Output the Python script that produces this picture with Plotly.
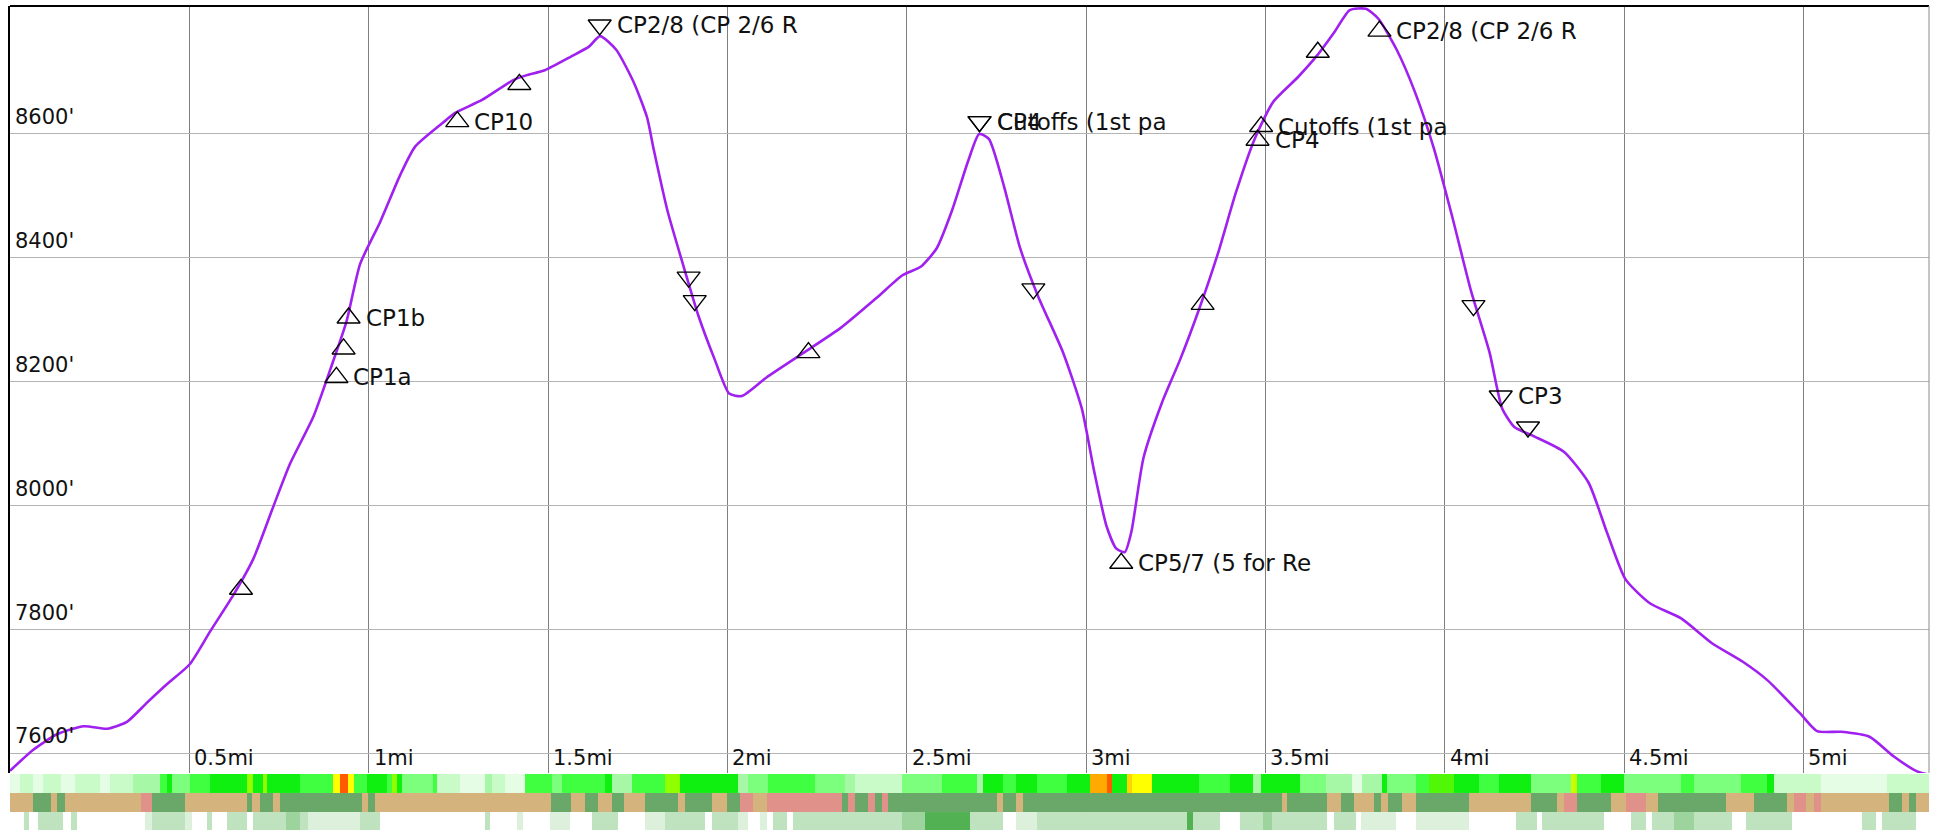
import plotly.graph_objects as go

# ---------------- data ----------------
dist_mi = [0.000, 0.065, 0.131, 0.206, 0.271, 0.326, 0.382, 0.438, 0.501, 0.558, 0.623, 0.679,
           0.735, 0.781, 0.846, 0.893, 0.938, 0.976, 1.032, 1.088, 1.130, 1.217, 1.241, 1.316,
           1.403, 1.441, 1.491, 1.564, 1.614, 1.645, 1.690, 1.740, 1.776, 1.795, 1.833, 1.878,
           1.919, 1.964, 2.005, 2.040, 2.109, 2.213, 2.316, 2.419, 2.488, 2.540, 2.584, 2.626,
           2.671, 2.702, 2.729, 2.771, 2.816, 2.867, 2.936, 2.988, 3.022, 3.057, 3.084, 3.108,
           3.126, 3.160, 3.212, 3.263, 3.315, 3.367, 3.418, 3.470, 3.522, 3.591, 3.643, 3.694,
           3.735, 3.780, 3.815, 3.866, 3.918, 3.970, 4.021, 4.073, 4.125, 4.160, 4.194, 4.245,
           4.332, 4.401, 4.452, 4.504, 4.573, 4.659, 4.745, 4.831, 4.900, 4.990, 5.038, 5.105,
           5.184, 5.252, 5.317, 5.348]
elev_ft = [7572, 7606, 7631, 7644, 7640, 7651, 7682, 7712, 7744, 7797, 7856, 7915,
           8000, 8068, 8144, 8220, 8297, 8390, 8458, 8534, 8580, 8623, 8634, 8655,
           8687, 8695, 8703, 8725, 8741, 8758, 8736, 8682, 8627, 8574, 8476, 8386,
           8307, 8237, 8181, 8177, 8207, 8247, 8287, 8337, 8372, 8386, 8416, 8476,
           8556, 8600, 8592, 8516, 8416, 8337, 8247, 8157, 8057, 7967, 7931, 7925,
           7957, 8077, 8167, 8237, 8317, 8406, 8506, 8592, 8652, 8692, 8726, 8766,
           8800, 8802, 8786, 8736, 8666, 8576, 8466, 8347, 8247, 8157, 8127, 8113,
           8087, 8037, 7957, 7881, 7842, 7818, 7778, 7748, 7718, 7665, 7636, 7635,
           7627, 7595, 7571, 7566]

# checkpoints approached uphill (drawn as up triangles)
up_mi = [0.644, 0.910, 0.930, 0.944, 1.247, 1.420, 2.226, 3.098, 3.325, 3.478, 3.488, 3.646, 3.818]
up_ft = [7865, 8207, 8253, 8303, 8620, 8680, 8247, 7907, 8325, 8590, 8612, 8732, 8766]
up_lbl = ["", "CP1a", "", "CP1b", "CP10", "", "", "CP5/7 (5 for Re", "", "CP4",
          "Cutoffs (1st pa", "", "CP2/8 (CP 2/6 R"]

# checkpoints approached downhill (drawn as down triangles)
dn_mi = [1.644, 1.892, 1.909, 2.703, 2.703, 2.853, 4.080, 4.156, 4.232]
dn_ft = [8776, 8369, 8331, 8620, 8620, 8350, 8323, 8177, 8127]
dn_lbl = ["CP2/8 (CP 2/6 R", "", "", "CP4", "Cutoffs (1st pa", "", "", "CP3", ""]

x_ticks = [0.5, 1, 1.5, 2, 2.5, 3, 3.5, 4, 4.5, 5]
x_tick_text = ["0.5mi", "1mi", "1.5mi", "2mi", "2.5mi", "3mi", "3.5mi", "4mi", "4.5mi", "5mi"]
y_ticks = [7600, 7800, 8000, 8200, 8400, 8600]
y_tick_text = ["7600'", "7800'", "8000'", "8200'", "8400'", "8600'"]

# strip 1: grade intensity (0 pale ... 6 green, 8 yellow, 10 red-orange)
grade_edges = [0, 0.029, 0.063, 0.093, 0.141, 0.182, 0.252, 0.280, 0.344, 0.419, 0.439, 0.453,
               0.503, 0.558, 0.662, 0.678, 0.706, 0.717, 0.809, 0.901, 0.921, 0.943, 0.960,
               0.996, 1.052, 1.066, 1.080, 1.093, 1.180, 1.191, 1.255, 1.325, 1.344, 1.380,
               1.436, 1.511, 1.539, 1.659, 1.678, 1.734, 1.826, 1.868, 2.029, 2.057, 2.113,
               2.244, 2.327, 2.355, 2.486, 2.598, 2.695, 2.712, 2.767, 2.806, 2.862, 2.946,
               3.010, 3.057, 3.071, 3.113, 3.127, 3.185, 3.316, 3.400, 3.464, 3.489, 3.595,
               3.670, 3.742, 3.770, 3.826, 3.840, 3.921, 3.957, 4.026, 4.096, 4.152, 4.241,
               4.352, 4.369, 4.436, 4.500, 4.659, 4.695, 4.826, 4.898, 4.918, 5.049, 5.233, 5.350]
grade_val = [1, 2, 1, 2, 1, 2, 1, 2, 3, 5, 6,
             4, 5, 6, 7, 6, 7, 6, 5, 8, 10, 8,
             5, 6, 5, 7, 6, 4, 5, 2, 1, 3, 2,
             1, 5, 4, 5, 6, 3, 5, 7, 6, 3, 4,
             5, 4, 3, 2, 4, 5, 3, 6, 5, 6, 5,
             6, 9, 10, 6, 8.5, 8, 6, 5, 6, 3, 6,
             4, 3, 1, 3, 6, 4, 5, 6.5, 6, 5, 6,
             4, 7.5, 5, 6, 4, 5, 4, 5, 6, 2, 1, 2]

# strip 2: surface type (0 tan, 1 green, 2 salmon)
surf_edges = [0, 0.063, 0.113, 0.132, 0.152, 0.364, 0.397, 0.489, 0.662, 0.676, 0.698, 0.734,
              0.753, 0.982, 0.999, 1.018, 1.508, 1.564, 1.603, 1.639, 1.678, 1.712, 1.770,
              1.862, 1.882, 1.957, 1.999, 2.035, 2.071, 2.110, 2.319, 2.336, 2.355, 2.391,
              2.411, 2.430, 2.447, 2.751, 2.767, 2.806, 2.823, 3.545, 3.561, 3.673, 3.712,
              3.748, 3.804, 3.823, 3.843, 3.882, 3.921, 4.068, 4.241, 4.313, 4.333, 4.369,
              4.464, 4.506, 4.561, 4.595, 4.784, 4.862, 4.954, 4.973, 5.007, 5.029, 5.049,
              5.238, 5.274, 5.294, 5.313, 5.350]
surf_val = [0, 1, 0, 1, 0, 2, 1, 0, 1, 0, 1,
            0, 1, 0, 1, 0, 1, 0, 1, 0, 1, 0,
            1, 0, 1, 0, 1, 2, 0, 2, 1, 2, 1,
            2, 1, 2, 1, 0, 1, 0, 1, 0, 1, 0,
            1, 0, 1, 0, 1, 0, 1, 0, 1, 0, 2,
            1, 0, 2, 0, 1, 0, 1, 0, 2, 0, 2,
            0, 1, 0, 1, 0]

# strip 3: cover density (0 none ... 4 dense)
cover_edges = [0, 0.038, 0.052, 0.077, 0.149, 0.171, 0.188, 0.377, 0.397, 0.489, 0.508, 0.550,
               0.564, 0.606, 0.662, 0.678, 0.770, 0.809, 0.831, 0.976, 1.032, 1.325, 1.338,
               1.414, 1.430, 1.506, 1.561, 1.623, 1.695, 1.770, 1.826, 1.937, 1.957, 2.029,
               2.057, 2.090, 2.110, 2.127, 2.166, 2.183, 2.486, 2.550, 2.675, 2.767, 2.806,
               2.862, 3.280, 3.297, 3.372, 3.428, 3.492, 3.519, 3.673, 3.692, 3.753, 3.767,
               3.865, 3.921, 4.068, 4.199, 4.258, 4.272, 4.444, 4.520, 4.561, 4.578, 4.639,
               4.695, 4.801, 4.840, 4.968, 5.163, 5.202, 5.219, 5.313, 5.350]
cover_val = [0, 2, 0, 2, 0, 2, 0, 1, 2, 1, 0,
             2, 0, 2, 0, 2, 3, 2, 1, 2, 0, 2,
             0, 1, 0, 1, 0, 2, 0, 1, 2, 0, 2,
             1, 0, 1, 0, 2, 0, 2, 3, 4, 2, 0,
             1, 2, 4, 2, 0, 2, 3, 2, 0, 2, 0,
             1, 0, 1, 0, 2, 0, 2, 0, 2, 0, 2,
             3, 2, 0, 2, 0, 2, 0, 2, 0]

# ---------------- figure ----------------
FONT = "DejaVu Sans"
FS = 21
LFS = 23
X_RANGE = [0, 5.35]

fig = go.Figure()

fig.add_trace(go.Scatter(x=dist_mi, y=elev_ft, mode="lines",
                         line=dict(color="#a020f0", width=2.6, shape="spline", smoothing=0.6),
                         hoverinfo="skip", showlegend=False))

fig.add_trace(go.Scatter(x=up_mi, y=up_ft, mode="markers",
                         marker=dict(symbol="triangle-up-open", size=20, color="black",
                                     line=dict(width=1.4, color="black")),
                         cliponaxis=False, showlegend=False))
fig.add_trace(go.Scatter(x=dn_mi, y=dn_ft, mode="markers",
                         marker=dict(symbol="triangle-down-open", size=20, color="black",
                                     line=dict(width=1.4, color="black")),
                         cliponaxis=False, showlegend=False))

grade_scale = [[0.0, "#ffffff"], [0.1, "#e4fde4"], [0.2, "#c8fbc8"], [0.3, "#a6f7a6"],
               [0.4, "#7cff7c"], [0.5, "#40ff40"], [0.6, "#10f010"], [0.7, "#90ff00"],
               [0.8, "#ffff00"], [0.9, "#ffaa00"], [1.0, "#ff5a00"]]
surf_scale = [[0.0, "#d4b47c"], [0.5, "#6aa86a"], [1.0, "#e0918a"]]
cover_scale = [[0.0, "#ffffff"], [0.25, "#dcf0dc"], [0.5, "#bfe3bf"], [0.75, "#9dd49d"],
               [1.0, "#52b152"]]

fig.add_trace(go.Heatmap(x=grade_edges, y=[0, 1], z=[grade_val], zmin=0, zmax=10,
                         colorscale=grade_scale, showscale=False, xaxis="x", yaxis="y2",
                         hoverinfo="skip"))
fig.add_trace(go.Heatmap(x=surf_edges, y=[0, 1], z=[surf_val], zmin=0, zmax=2,
                         colorscale=surf_scale, showscale=False, xaxis="x", yaxis="y3",
                         hoverinfo="skip"))
fig.add_trace(go.Heatmap(x=cover_edges, y=[0, 1], z=[cover_val], zmin=0, zmax=4,
                         colorscale=cover_scale, showscale=False, xaxis="x", yaxis="y4",
                         hoverinfo="skip"))

annotations = []
for v, t in zip(y_ticks, y_tick_text):
    annotations.append(dict(x=0, xref="x domain", y=v, yref="y", text=t, showarrow=False,
                            xanchor="left", yanchor="bottom", xshift=3, yshift=3,
                            font=dict(family=FONT, size=FS, color="#111")))
for v, t in zip(x_ticks, x_tick_text):
    annotations.append(dict(x=v, xref="x", y=0, yref="y domain", text=t, showarrow=False,
                            xanchor="left", yanchor="bottom", xshift=3, yshift=1,
                            font=dict(family=FONT, size=FS, color="#111")))
for xs, ys, ls in ((up_mi, up_ft, up_lbl), (dn_mi, dn_ft, dn_lbl)):
    for xv, yv, lb in zip(xs, ys, ls):
        if lb:
            annotations.append(dict(x=xv, xref="x", y=yv, yref="y", text=lb, showarrow=False,
                                    xanchor="left", yanchor="middle", xshift=15, yshift=0,
                                    font=dict(family=FONT, size=LFS, color="#111")))

fig.update_layout(
    width=1939, height=830,
    margin=dict(l=10, r=10, t=6, b=0),
    paper_bgcolor="white", plot_bgcolor="white",
    showlegend=False,
    xaxis=dict(range=X_RANGE, tickvals=x_ticks, showticklabels=False, ticks="",
               showgrid=True, gridcolor="#7e7e7e", gridwidth=1, zeroline=False,
               showline=False, anchor="y", fixedrange=True),
    yaxis=dict(domain=[0.0692, 1], range=[7568.5, 8806.6], tickvals=y_ticks,
               showticklabels=False, ticks="", showgrid=True, gridcolor="#b4b4b4",
               gridwidth=1, zeroline=False, showline=True, linecolor="black",
               linewidth=2, anchor="x"),
    yaxis2=dict(domain=[0.0449, 0.0680], range=[0, 1], visible=False, anchor="x"),
    yaxis3=dict(domain=[0.0218, 0.0449], range=[0, 1], visible=False, anchor="x"),
    yaxis4=dict(domain=[0.0, 0.0218], range=[0, 1], visible=False, anchor="x"),
    annotations=annotations,
    shapes=[
        dict(type="line", xref="x domain", yref="y domain", x0=0, x1=1, y0=1, y1=1,
             line=dict(color="black", width=2)),
        dict(type="line", xref="x domain", yref="y domain", x0=1, x1=1, y0=0, y1=1,
             line=dict(color="#8a8a8a", width=1)),
    ],
)

fig.write_html("out.html", config={"displayModeBar": False},
               post_script="document.body.style.margin='0px';document.body.style.overflow='hidden';")
